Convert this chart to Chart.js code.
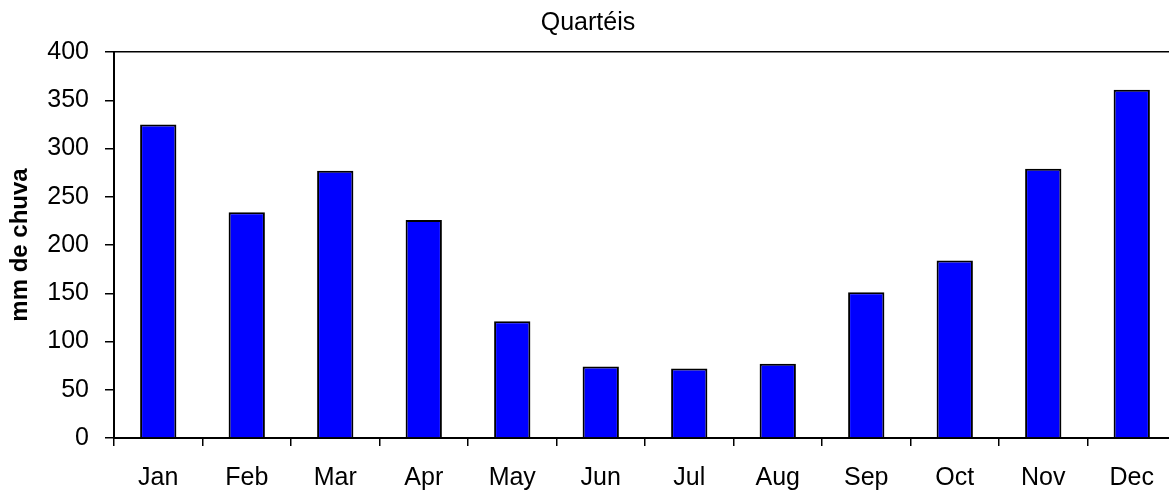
<!DOCTYPE html>
<html>
<head>
<meta charset="utf-8">
<script src="https://cdn.jsdelivr.net/npm/chart.js@4/dist/chart.umd.min.js"></script>
<style>
  html, body { margin: 0; padding: 0; background: #fff; overflow: hidden; }
  #wrap { position: relative; width: 1180px; height: 494px; }
</style>
</head>
<body>
<div id="wrap"><canvas id="chart"></canvas></div>
<script>
const months = ['Jan', 'Feb', 'Mar', 'Apr', 'May', 'Jun', 'Jul', 'Aug', 'Sep', 'Oct', 'Nov', 'Dec'];
const rainfall = [325, 234, 277, 226, 121, 74, 72, 77, 151, 184, 279, 361];
const yTicks = [0, 50, 100, 150, 200, 250, 300, 350, 400];

const FONT = '"Liberation Sans", Arial, Helvetica, sans-serif';

const ctx = document.getElementById('chart');

new Chart(ctx, {
  type: 'bar',
  data: {
    labels: months,
    datasets: [{
      label: 'mm de chuva',
      data: rainfall,
      backgroundColor: '#0000ff',
      borderColor: '#000000',
      borderWidth: 2,
      borderSkipped: 'bottom',
      categoryPercentage: 1,
      barPercentage: 0.41
    }]
  },
  options: {
    responsive: true,
    maintainAspectRatio: false,
    animation: false,
    devicePixelRatio: 1,
    layout: { padding: { left: 0, right: 4, top: 0, bottom: 0 } },
    plugins: {
      legend: { display: false },
      tooltip: { enabled: false },
      title: {
        display: true,
        text: 'Quartéis',
        color: '#000',
        font: { family: FONT, size: 25, weight: 'normal', lineHeight: 1.2 },
        padding: { top: 8, bottom: 14 }
      }
    },
    scales: {
      x: {
        grid: {
          offset: true,
          drawOnChartArea: false,
          color: '#000',
          tickLength: 8,
          lineWidth: 1.5
        },
        border: { color: '#000', width: 2 },
        ticks: {
          color: '#000',
          padding: 17,
          maxRotation: 0,
          font: { family: FONT, size: 25, lineHeight: 1.2 }
        },
        afterFit: scale => { scale.height = 56; }
      },
      y: {
        min: 0,
        max: 400,
        afterBuildTicks: scale => { scale.ticks = yTicks.map(v => ({ value: v })); },
        grid: {
          color: c => (c.tick && c.tick.value === 400 ? '#000' : 'transparent'),
          tickColor: '#000',
          tickLength: 9,
          lineWidth: 1.5
        },
        border: { color: '#000', width: 2 },
        ticks: {
          color: '#000',
          padding: 16,
          font: { family: FONT, size: 25, lineHeight: 1.2 }
        },
        title: {
          display: true,
          text: 'mm de chuva',
          color: '#000',
          padding: { top: 6, bottom: 0 },
          font: { family: FONT, size: 24, weight: 'bold', lineHeight: 1.2 }
        },
        afterFit: scale => { scale.width = 114; }
      }
    }
  }
});
</script>
</body>
</html>
